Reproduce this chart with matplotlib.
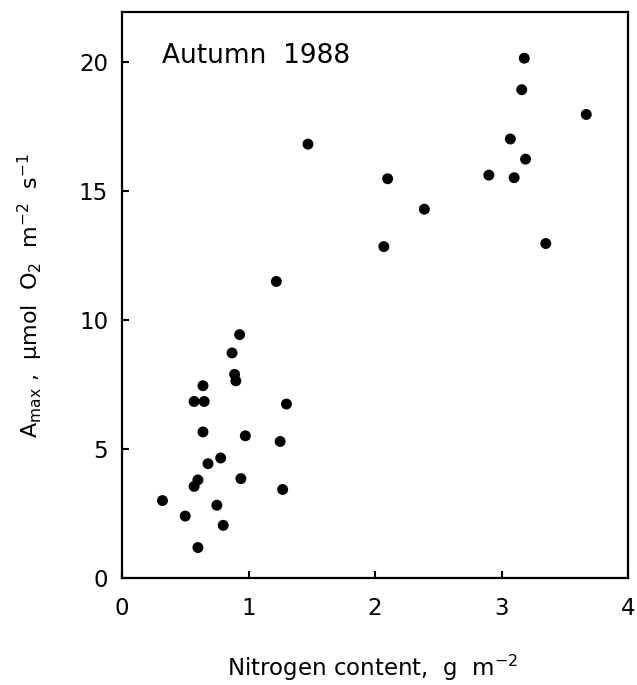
import numpy as np
from matplotlib import pyplot as plt

# leaf nitrogen content (g m-2) and light-saturated O2 evolution
nitrogen = [0.32, 0.50, 0.60, 0.57, 0.60, 0.68, 0.64, 0.57, 0.65, 0.64,
            0.75, 0.80, 0.78, 0.87, 0.89, 0.90, 0.93, 0.94, 0.975, 1.22,
            1.25, 1.27, 1.30, 1.47, 2.07, 2.10, 2.39, 2.90, 3.10, 3.07,
            3.19, 3.16, 3.18, 3.35, 3.67]
amax = [3.0, 2.40, 1.18, 3.55, 3.80, 4.43, 5.66, 6.84, 6.84, 7.45,
        2.82, 2.04, 4.65, 8.72, 7.89, 7.64, 9.43, 3.85, 5.51, 11.49,
        5.29, 3.43, 6.74, 16.81, 12.84, 15.47, 14.29, 15.61, 15.51, 17.01,
        16.23, 18.92, 20.14, 12.96, 17.96]

x_ticks = [0, 1, 2, 3, 4]
y_ticks = [0, 5, 10, 15, 20]

plt.rcParams['font.family'] = ['DejaVu Sans']
plt.rcParams['mathtext.fontset'] = 'dejavusans'

fig = plt.figure(figsize=(6.37, 6.85), dpi=100)
ax = fig.add_axes([122 / 637, 1 - 578 / 685, 506 / 637, 566 / 685])

ax.scatter(nitrogen, amax, s=62, c='black', edgecolors='none', zorder=3)

ax.set_xlim(0, 4)
ax.set_ylim(0, 21.93)
ax.set_xticks(x_ticks)
ax.set_yticks(y_ticks)
ax.tick_params(direction='in', length=5, width=1.5, labelsize=16.5)
ax.tick_params(axis='x', pad=14)
ax.tick_params(axis='y', pad=10)
for sp in ax.spines.values():
    sp.set_linewidth(1.6)

ax.text(0.079, 0.923, 'Autumn  1988', transform=ax.transAxes,
        fontsize=19, va='center', ha='left')

ax.set_xlabel(r'Nitrogen content,  g  m$^{-2}$', fontsize=16.5)
ax.xaxis.set_label_coords(0.495, -0.132)
ax.set_ylabel('A$_{\\rm max}$ ,  \u03bcmol  O$_2$  m$^{-2}$  s$^{-1}$', fontsize=16)
ax.yaxis.set_label_coords(-0.152, 0.5)

fig.savefig('out.png', dpi=100)
